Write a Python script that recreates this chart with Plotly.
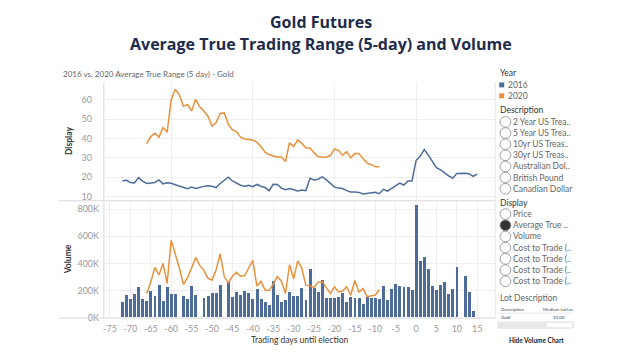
import plotly.graph_objects as go

# ---------------- data ----------------
days_2016 = list(range(-72, 16))
atr_2016 = [18.0, 18.5, 17.3, 17.1, 19.8, 18.0, 16.8, 17.1, 17.3, 18.6,
            16.6, 17.1, 16.9, 16.1, None, 14.9, 14.1, 14.9, 14.2, None,
            15.3, 15.6, 15.4, 14.7, 16.8, None, 20.0, 18.1, 17.1, 15.9,
            15.4, 15.8, 15.1, 16.3, 15.4, 14.7, 13.1, 16.4, 16.3, 14.4,
            13.6, 14.2, 13.6, 12.9, 13.4, 13.1, 19.5, 18.6, 19.0, 20.2,
            18.8, 16.8, 14.9, 14.4, 14.2, 13.1, 12.4, 12.4, 12.2, 11.4,
            11.7, 12.2, 12.2, 11.5, 13.8, 12.9, 14.3, 15.7, 17.0, 16.0,
            18.1, 18.1, 28.6, 30.8, 34.3, 31.4, 28.1, 24.9, 23.8, 22.1,
            20.7, 19.5, 22.0, None, 22.1, 21.8, 20.5, 21.6]
vol_2016 = [114, 162, 138, 170, 225, 138, 124, 194, 158, 242,
            121, 225, 172, 172, None, 158, 133, 228, 167, None,
            143, 160, 182, 182, 238, None, 267, 153, 184, 167,
            196, 182, 138, 213, 138, 116, 95, 269, 167, 114,
            128, 189, 160, 160, 218, 131, 356, 218, 189, 274,
            143, 143, 143, 150, 182, 114, 150, 145, 141, 102,
            150, 143, 143, 138, 235, 126, 206, 245, 230, 223,
            225, 204, 827, 417, 448, 356, 235, 204, 238, 259,
            170, 213, 371, None, 303, 189, 44, None]  # thousands

days_2020 = list(range(-66, -8))
atr_2020 = [37.3, 41.0, 42.7, 40.7, 45.6, 43.2, 60.0, 65.4, 62.5, 56.6,
            57.6, 54.2, 60.2, 56.3, 54.2, 51.5, 46.4, 48.1, 52.9, 53.2,
            47.3, 44.4, 43.6, 40.7, 39.7, 39.5, 39.2, 38.1, 35.9, 32.9,
            31.7, 31.0, 30.5, 30.5, 28.1, 37.8, 35.8, 39.3, 37.5, 35.1,
            35.1, 32.7, 30.7, 30.3, 30.3, 31.2, 34.6, 33.9, 31.4, 33.2,
            30.0, 32.2, 32.2, 29.7, 27.3, 26.6, 25.4, 25.4]
vol_2020 = [179, 262, 371, 315, 400, 252, 572, 475, 366, 245,
            293, 366, 444, 385, 349, 291, 276, 352, 470, 303,
            257, 305, 335, 305, 310, 366, 422, 233, 269, 204,
            201, 245, 303, 269, 179, 390, 286, 419, 366, 238,
            235, 221, 262, 267, 223, 177, 228, 189, 196, 228,
            165, 274, 189, 216, 155, 162, 167, 206]  # thousands

x_ticks = list(range(-75, 16, 5))
atr_ticks = [10, 20, 30, 40, 50, 60]
vol_ticks = [0, 200, 400, 600, 800]

description_items = ["2 Year US Trea..", "5 Year US Trea..", "10yr US Treas..",
                     "30yr US Treas..", "Australian Dol..", "British Pound",
                     "Canadian Dollar"]
display_items = ["Price", "Average True ..", "Volume", "Cost to Trade (..",
                 "Cost to Trade (..", "Cost to Trade (..", "Cost to Trade (.."]

# ---------------- helpers ----------------
W, H = 639, 360
OX, OY = 8, 8   # page offset of the plot div (default body margin)
def px(x): return (x - OX) / W
def py(y): return 1 - (y - OY) / H

BLUE = "#4e6c99"
ORANGE = "#e8913d"
GRID = "#eeeeee"
TICK = "#9a9a9a"
FONT = "Lato"

fig = go.Figure()
fig.add_trace(go.Scatter(x=days_2016, y=atr_2016, mode="lines", connectgaps=True,
                         line=dict(color=BLUE, width=1.5), xaxis="x2", yaxis="y",
                         showlegend=False))
fig.add_trace(go.Scatter(x=days_2020, y=atr_2020, mode="lines",
                         line=dict(color=ORANGE, width=1.5), xaxis="x2", yaxis="y",
                         showlegend=False))
fig.add_trace(go.Bar(x=days_2016, y=[None if v is None else v * 1000 for v in vol_2016],
                     marker=dict(color=BLUE, line=dict(width=0)), width=0.72,
                     xaxis="x", yaxis="y2", showlegend=False))
fig.add_trace(go.Scatter(x=days_2020, y=[v * 1000 for v in vol_2020], mode="lines",
                         line=dict(color=ORANGE, width=1.5), xaxis="x", yaxis="y2",
                         showlegend=False))

xdom = [px(103), px(495)]
fig.update_layout(
    width=W, height=H, margin=dict(l=0, r=0, t=0, b=0),
    paper_bgcolor="white", plot_bgcolor="white",
    font=dict(family=FONT, size=9, color=TICK),
    bargap=0,
    xaxis=dict(domain=xdom, anchor="y2", range=[-76.5, 19.4],
               tickmode="array", tickvals=x_ticks, ticktext=[str(t) for t in x_ticks],
               tickfont=dict(size=9, color=TICK), showgrid=True, gridcolor=GRID,
               zeroline=False, showline=False, ticks="outside", ticklen=3,
               tickcolor="rgba(0,0,0,0)"),
    xaxis2=dict(domain=xdom, anchor="y", matches="x", showticklabels=False,
                showgrid=True, gridcolor=GRID, zeroline=False, showline=False),
    yaxis=dict(domain=[py(203), py(83)], range=[8.12, 69.16],
               tickmode="array", tickvals=atr_ticks, ticktext=[str(t) for t in atr_ticks],
               tickfont=dict(size=9, color=TICK), showgrid=True, gridcolor=GRID,
               zeroline=False, showline=False, ticks="outside", ticklen=9,
               tickcolor="rgba(0,0,0,0)"),
    yaxis2=dict(domain=[py(322), py(205)], range=[0, 851000],
                tickmode="array", tickvals=[v * 1000 for v in vol_ticks],
                ticktext=[f"{v}K" for v in vol_ticks],
                tickfont=dict(size=9, color=TICK), showgrid=True, gridcolor=GRID,
                zeroline=False, showline=False, ticks="outside", ticklen=2,
                tickcolor="rgba(0,0,0,0)"),
)

shapes = []
LINE = "#d8d8d8"
shapes.append(dict(type="line", xref="paper", yref="paper", x0=px(58), x1=px(495),
                   y0=py(203.5), y1=py(203.5), line=dict(color=LINE, width=1)))
shapes.append(dict(type="line", xref="paper", yref="paper", x0=px(58), x1=px(495),
                   y0=py(322.5), y1=py(322.5), line=dict(color=LINE, width=1)))
shapes.append(dict(type="line", xref="paper", yref="paper", x0=px(103), x1=px(103),
                   y0=py(83), y1=py(322.5), line=dict(color=LINE, width=1)))
shapes.append(dict(type="line", xref="paper", yref="paper", x0=px(495), x1=px(495),
                   y0=py(83), y1=py(322.5), line=dict(color="#e6e6e6", width=1)))

ann = []
def text(x, y, s, size=8, color="#555", bold=False, anchor="left", family=FONT, angle=0):
    ann.append(dict(x=px(x), y=py(y), xref="paper", yref="paper", text=s, showarrow=False,
                    xanchor=anchor, yanchor="middle", textangle=angle,
                    font=dict(family=family, size=size, color=color,
                              weight="bold" if bold else "normal")))

# titles
text(320, 22, "Gold Futures", size=16, color="#1d2b4c", bold=True, anchor="center",
     family="Open Sans")
text(320, 45, "Average True Trading Range (5-day) and Volume", size=16,
     color="#1d2b4c", bold=True, anchor="center", family="Open Sans")
text(60, 75, "2016 vs. 2020 Average True Range (5 day) - Gold", size=8, color="#666")
text(68, 143, "Display", size=8.5, color="#333", bold=True, anchor="center", angle=-90)
text(68, 263, "Volume", size=8.5, color="#333", bold=True, anchor="center", angle=-90)
text(299, 345, "Trading days until election", size=8.5, color="#333", anchor="center")

# right panel
text(498, 74, "Year", size=8.5, color="#333")
for yy, col, lab in [(86, BLUE, "2016"), (97, ORANGE, "2020")]:
    shapes.append(dict(type="rect", xref="paper", yref="paper", x0=px(499), x1=px(504),
                       y0=py(yy + 2.5), y1=py(yy - 2.5), fillcolor=col, line=dict(width=0)))
    text(506, yy, lab, size=8.5, color="#666")
text(498, 111, "Description", size=8.5, color="#333")


def radio(yy, filled=False):
    shapes.append(dict(type="circle", xref="paper", yref="paper",
                       x0=px(499.8), x1=px(510.6), y0=py(yy + 5.4), y1=py(yy - 5.4),
                       fillcolor="#333" if filled else "rgba(0,0,0,0)",
                       line=dict(color="#888", width=0.8)))


for i, lab in enumerate(description_items):
    yy = 123.5 + i * 11.3
    radio(yy)
    text(510.5, yy, lab, size=8.5, color="#666")

text(498, 206, "Display", size=8.5, color="#333")
for i, lab in enumerate(display_items):
    yy = 217 + i * 11.35
    radio(yy, filled=(i == 1))
    text(510.5, yy, lab, size=8.5, color="#666")

text(498, 302, "Lot Description", size=8.5, color="#666")
text(499, 314, "Description", size=4.5, color="#444")
text(541, 314, "Medium Lot", size=4.5, color="#444")
text(565, 314, "Lar", size=4.5, color="#444")
shapes.append(dict(type="line", xref="paper", yref="paper", x0=px(498), x1=px(573),
                   y0=py(317.5), y1=py(317.5), line=dict(color="#e0e0e0", width=0.6)))
text(499, 322, "Gold", size=4.5, color="#444")
text(551, 322, "10.00", size=4.5, color="#444")
shapes.append(dict(type="rect", xref="paper", yref="paper", x0=px(498), x1=px(573),
                   y0=py(332.5), y1=py(326.5), fillcolor="white",
                   line=dict(color="#cfcfcf", width=0.8)))
shapes.append(dict(type="rect", xref="paper", yref="paper", x0=px(498.5), x1=px(547),
                   y0=py(332), y1=py(327), fillcolor="#e8e8e8", line=dict(width=0)))
text(536, 345, "Hide Volume Chart", size=6.5, color="#222", bold=True, anchor="center")

fig.update_layout(shapes=shapes, annotations=ann)
fig.write_html("out.html")
